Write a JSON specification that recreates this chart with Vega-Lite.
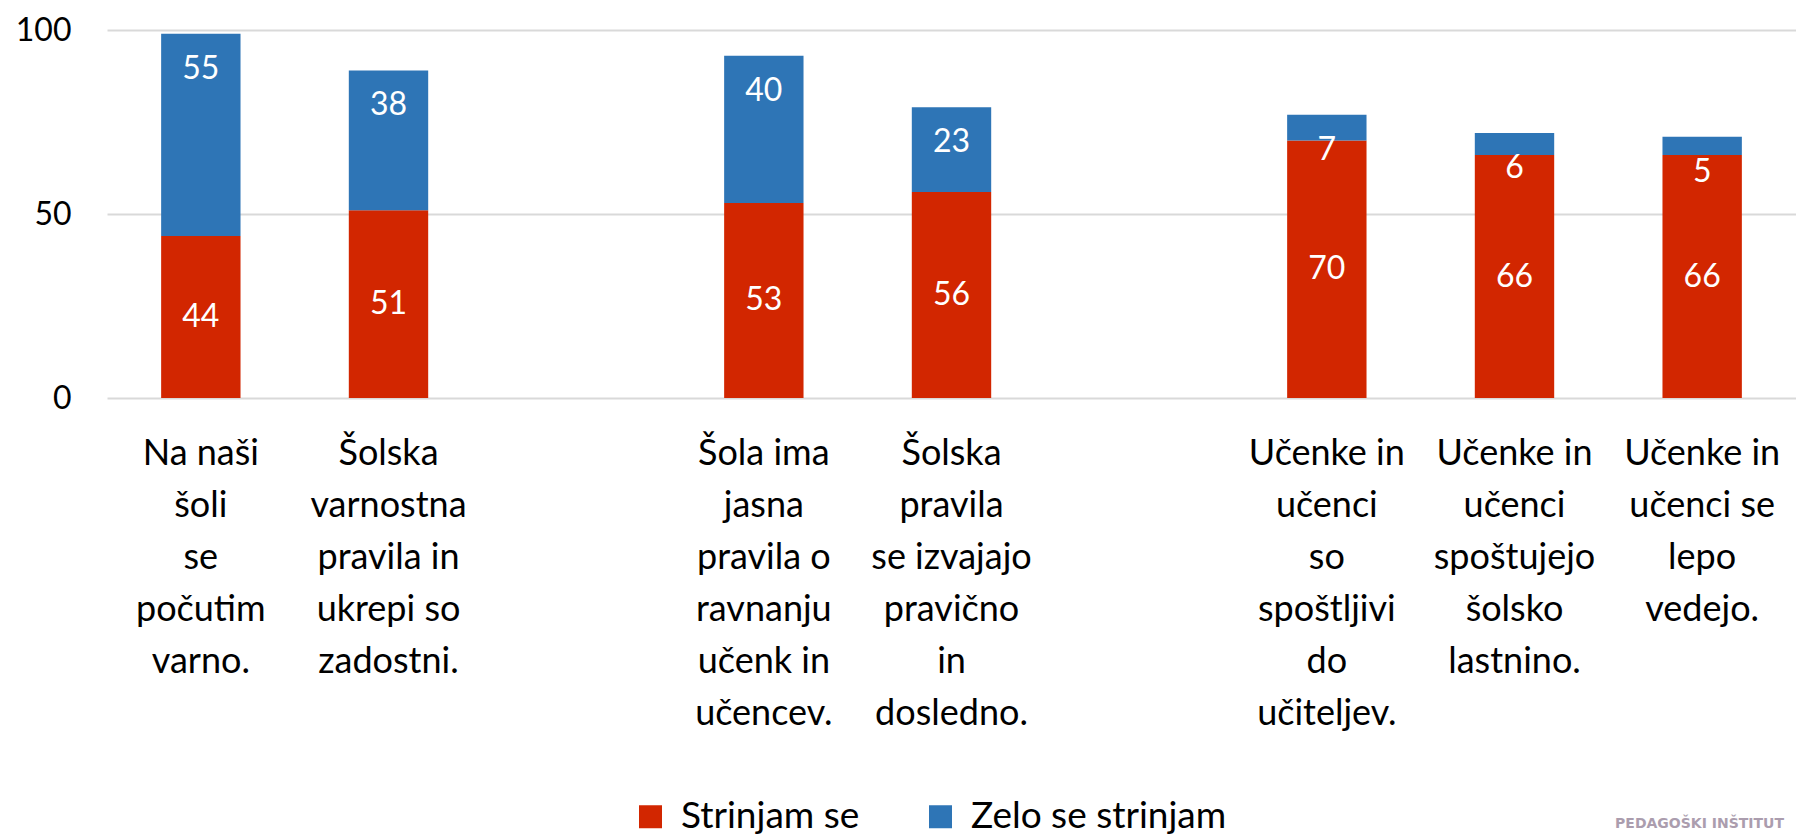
{
  "$schema": "https://vega.github.io/schema/vega-lite/v6.json",
  "autosize": "none",
  "width": 1689,
  "height": 368,
  "padding": {"left": 107, "top": 30, "right": 0, "bottom": 438},
  "background": "white",
  "config": {
    "view": {"stroke": null},
    "font": "Lato"
  },
  "title": {
    "text": "PEDAGOŠKI INŠTITUT",
    "orient": "bottom",
    "anchor": "end",
    "frame": "group",
    "font": "DejaVu Sans",
    "fontSize": 14,
    "fontWeight": "bold",
    "color": "#ab9dae",
    "offset": -18,
    "dx": -12
  },
  "data": {
    "values": [
      {"statement": "Na naši šoli se počutim varno.", "series": "Strinjam se", "value": 44},
      {"statement": "Na naši šoli se počutim varno.", "series": "Zelo se strinjam", "value": 55},
      {"statement": "Šolska varnostna pravila in ukrepi so zadostni.", "series": "Strinjam se", "value": 51},
      {"statement": "Šolska varnostna pravila in ukrepi so zadostni.", "series": "Zelo se strinjam", "value": 38},
      {"statement": "Šola ima jasna pravila o ravnanju učenk in učencev.", "series": "Strinjam se", "value": 53},
      {"statement": "Šola ima jasna pravila o ravnanju učenk in učencev.", "series": "Zelo se strinjam", "value": 40},
      {"statement": "Šolska pravila se izvajajo pravično in dosledno.", "series": "Strinjam se", "value": 56},
      {"statement": "Šolska pravila se izvajajo pravično in dosledno.", "series": "Zelo se strinjam", "value": 23},
      {"statement": "Učenke in učenci so spoštljivi do učiteljev.", "series": "Strinjam se", "value": 70},
      {"statement": "Učenke in učenci so spoštljivi do učiteljev.", "series": "Zelo se strinjam", "value": 7},
      {"statement": "Učenke in učenci spoštujejo šolsko lastnino.", "series": "Strinjam se", "value": 66},
      {"statement": "Učenke in učenci spoštujejo šolsko lastnino.", "series": "Zelo se strinjam", "value": 6},
      {"statement": "Učenke in učenci se lepo vedejo.", "series": "Strinjam se", "value": 66},
      {"statement": "Učenke in učenci se lepo vedejo.", "series": "Zelo se strinjam", "value": 5}
    ]
  },
  "encoding": {
    "x": {
      "field": "statement",
      "type": "nominal",
      "sort": null,
      "scale": {
        "domain": [
          "Na naši šoli se počutim varno.",
          "Šolska varnostna pravila in ukrepi so zadostni.",
          "gap1",
          "Šola ima jasna pravila o ravnanju učenk in učencev.",
          "Šolska pravila se izvajajo pravično in dosledno.",
          "gap2",
          "Učenke in učenci so spoštljivi do učiteljev.",
          "Učenke in učenci spoštujejo šolsko lastnino.",
          "Učenke in učenci se lepo vedejo."
        ],
        "paddingInner": 0.577,
        "paddingOuter": 0.2885
      },
      "axis": {
        "title": null,
        "domain": false,
        "ticks": false,
        "labelAngle": 0,
        "labelFont": "Lato",
        "labelFontSize": 36,
        "labelColor": "#000000",
        "labelLineHeight": 52,
        "labelPadding": 38,
        "labelBaseline": "top",
        "labelLimit": 0,
        "labelOverlap": false,
        "labelExpr": "datum.value == 'Na naši šoli se počutim varno.' ? ['Na naši','šoli','se','počutim','varno.'] : datum.value == 'Šolska varnostna pravila in ukrepi so zadostni.' ? ['Šolska','varnostna','pravila in','ukrepi so','zadostni.'] : datum.value == 'Šola ima jasna pravila o ravnanju učenk in učencev.' ? ['Šola ima','jasna','pravila o','ravnanju','učenk in','učencev.'] : datum.value == 'Šolska pravila se izvajajo pravično in dosledno.' ? ['Šolska','pravila','se izvajajo','pravično','in','dosledno.'] : datum.value == 'Učenke in učenci so spoštljivi do učiteljev.' ? ['Učenke in','učenci','so','spoštljivi','do','učiteljev.'] : datum.value == 'Učenke in učenci spoštujejo šolsko lastnino.' ? ['Učenke in','učenci','spoštujejo','šolsko','lastnino.'] : datum.value == 'Učenke in učenci se lepo vedejo.' ? ['Učenke in','učenci se','lepo','vedejo.'] : ''"
      }
    }
  },
  "layer": [
    {
      "mark": {"type": "bar"},
      "encoding": {
        "y": {
          "field": "value",
          "type": "quantitative",
          "stack": "zero",
          "scale": {"domain": [0, 100], "nice": false},
          "axis": {
            "title": null,
            "values": [0, 50, 100],
            "domain": false,
            "ticks": false,
            "grid": true,
            "gridColor": "#d9d9d9",
            "gridWidth": 2,
            "labelFont": "Lato",
            "labelFontSize": 32,
            "labelColor": "#000000",
            "labelPadding": 36
          }
        },
        "order": {"field": "series", "sort": "ascending"},
        "color": {
          "field": "series",
          "type": "nominal",
          "scale": {"domain": ["Strinjam se", "Zelo se strinjam"], "range": ["#D22600", "#2E75B6"]},
          "legend": {
            "title": null,
            "orient": "none",
            "legendX": 525,
            "legendY": 768,
            "direction": "horizontal",
            "symbolType": "square",
            "symbolSize": 529,
            "symbolStrokeWidth": 0,
            "labelFont": "Lato",
            "labelFontSize": 37,
            "labelColor": "#000000",
            "labelOffset": 12,
            "columnPadding": 62,
            "labelLimit": 0
          }
        }
      }
    },
    {
      "transform": [{"filter": "datum.series == 'Strinjam se'"}],
      "mark": {"type": "text", "color": "white", "fontSize": 32, "font": "Lato", "baseline": "middle"},
      "encoding": {
        "y": {"field": "value", "type": "quantitative", "scale": {"domain": [0, 200], "nice": false}, "axis": null},
        "text": {"field": "value", "type": "quantitative"}
      }
    },
    {
      "transform": [
        {"stack": "value", "groupby": ["statement"], "sort": [{"field": "series", "order": "ascending"}], "as": ["v0", "v1"]},
        {"filter": "datum.series == 'Zelo se strinjam'"}
      ],
      "mark": {"type": "text", "color": "white", "fontSize": 32, "font": "Lato", "baseline": "middle", "dy": 35},
      "encoding": {
        "y": {"field": "v1", "type": "quantitative", "scale": {"domain": [0, 100], "nice": false}, "axis": null},
        "text": {"field": "value", "type": "quantitative"}
      }
    }
  ],
  "resolve": {"scale": {"y": "independent"}}
}
